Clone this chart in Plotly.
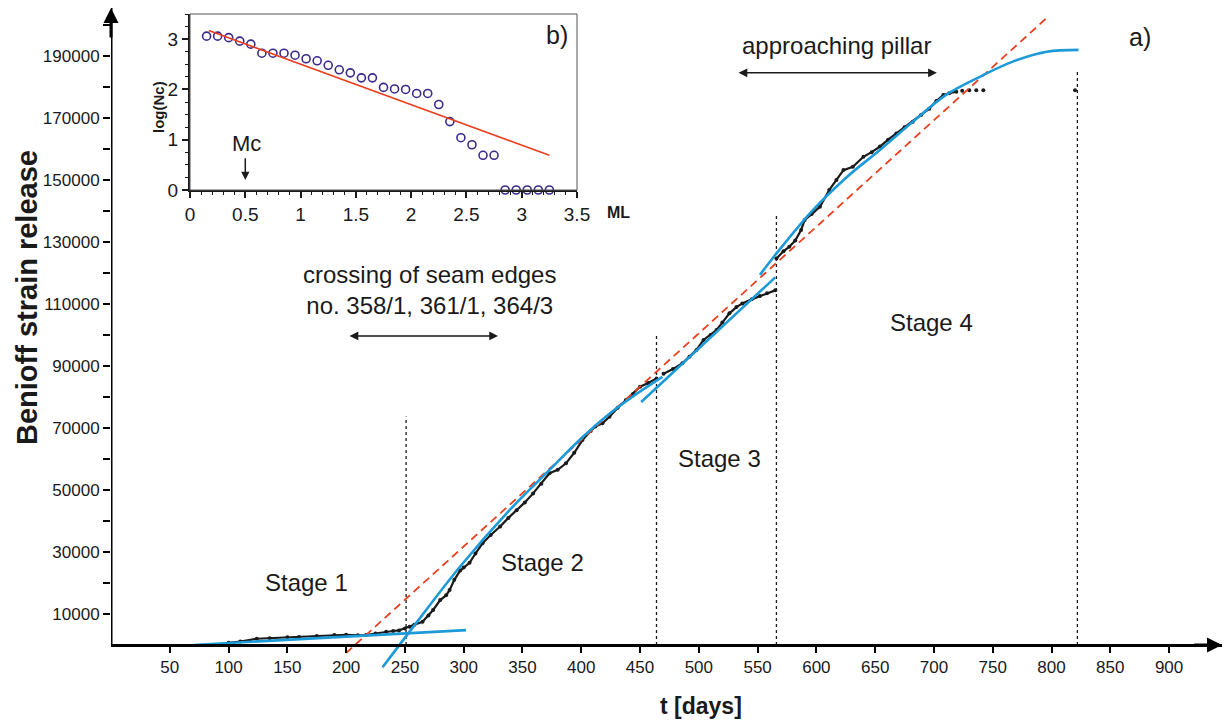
import plotly.graph_objects as go

# ---------------- main chart (a) data ----------------
t_stage1 = [100, 110, 124, 135, 150, 160, 175, 190, 200, 210, 217, 225, 234, 240, 245, 250]
v_stage1 = [700, 1100, 2000, 2200, 2500, 2600, 2900, 3200, 3300, 3100, 3200, 3700, 4300, 4500, 4700, 5300]

t_stage2 = [254, 258, 265, 270, 274, 280, 285, 288, 292, 297, 300, 305, 310, 316, 323, 331,
            338, 345, 352, 359, 366, 373, 380, 387, 394, 401, 408, 412, 418, 424, 431, 438,
            444, 450, 457, 464]
v_stage2 = [5900, 6500, 7500, 9500, 11300, 14500, 16000, 17700, 21000, 24000, 25000, 26500,
            29500, 32800, 35500, 38200, 41000, 43500, 46000, 48900, 52000, 55400, 56500, 58600,
            62000, 66100, 69000, 70500, 71500, 73600, 76500, 79000, 81000, 83300, 84500, 86000]

t_stage3 = [470, 478, 486, 492, 498, 504, 510, 515, 520, 526, 532, 537, 545, 552, 558, 565]
v_stage3 = [87500, 89000, 90900, 93000, 95200, 98400, 100000, 101600, 104000, 107000, 109000,
            110200, 111500, 112600, 113500, 114400]

t_stage4 = [566, 572, 577, 582, 587, 590, 596, 603, 611, 617, 623, 631, 640, 647, 654, 661,
            668, 675, 682, 689, 696, 702, 708, 713, 719]
v_stage4 = [124700, 127000, 128500, 130500, 133900, 137100, 139000, 141400, 146800, 150000,
            153200, 154300, 157500, 159000, 160800, 163000, 165000, 167000, 168800, 171000,
            173000, 175500, 177400, 178000, 178500]

t_tail = [724, 730, 736, 742, 820]
v_tail = [178800, 179000, 179000, 179000, 179000]

# fitted lines
t_fit1 = [70, 302]
v_fit1 = [0, 4800]
t_fit2 = [231, 254, 297, 339, 373, 401, 424, 447, 469]
v_fit2 = [-7200, 4300, 25300, 43500, 56500, 67000, 74600, 81000, 86500]
t_fit3 = [451, 565]
v_fit3 = [78400, 118600]
t_fit4 = [552, 566, 597, 626, 654, 682, 710, 739, 767, 796, 823]
v_fit4 = [119400, 126300, 140300, 151000, 159700, 168800, 177400, 183300, 188200, 191400, 192000]

t_linear = [200, 798]
v_linear = [-2600, 203000]

# stage boundaries (dotted verticals)
t_bounds = [251, 464, 566, 822]
v_bound_tops = [73700, 100000, 139400, 185500]

x_ticks = list(range(50, 901, 50))
y_ticks = list(range(10000, 190001, 20000))
y_minor = list(range(20000, 200001, 20000))

# ---------------- inset (b) data ----------------
ml = [0.15, 0.25, 0.35, 0.45, 0.55, 0.65, 0.75, 0.85, 0.95, 1.05, 1.15, 1.25, 1.35, 1.45,
      1.55, 1.65, 1.75, 1.85, 1.95, 2.05, 2.15, 2.25, 2.35, 2.45, 2.55, 2.65, 2.75, 2.85,
      2.95, 3.05, 3.15, 3.25]
log_nc = [3.06, 3.06, 3.03, 2.96, 2.90, 2.72, 2.72, 2.72, 2.68, 2.61, 2.57, 2.48, 2.39, 2.33,
          2.23, 2.23, 2.04, 2.01, 2.00, 1.92, 1.92, 1.70, 1.36, 1.04, 0.90, 0.69, 0.69, 0,
          0, 0, 0, 0]
ml_fit = [0.17, 3.25]
lognc_fit = [3.17, 0.69]

SANS = "Liberation Sans, Arial, sans-serif"
BLACK = "#1a1a1a"
BLUE = "#1d9ad8"
RED = "#e8401f"
PURPLE = "#3b2a8c"

X_MAX = 945
Y_MAX = 205500
Y_MIN = -8400

fig = go.Figure()

# dotted stage boundaries
for tb, vt in zip(t_bounds, v_bound_tops):
    fig.add_trace(go.Scatter(x=[tb, tb], y=[0, vt], mode="lines",
                             line=dict(color=BLACK, width=1.3, dash="dot"),
                             showlegend=False, hoverinfo="skip"))

# observed data
for tx, vy in [(t_stage1 + t_stage2, v_stage1 + v_stage2), (t_stage3, v_stage3), (t_stage4, v_stage4)]:
    fig.add_trace(go.Scatter(x=tx, y=vy, mode="lines+markers",
                             line=dict(color=BLACK, width=2.2),
                             marker=dict(color=BLACK, size=4),
                             showlegend=False))
fig.add_trace(go.Scatter(x=t_tail, y=v_tail, mode="markers",
                         marker=dict(color=BLACK, size=4), showlegend=False))

# linear trend (red dashed)
fig.add_trace(go.Scatter(x=t_linear, y=v_linear, mode="lines",
                         line=dict(color=RED, width=1.8, dash="8px,5px"), showlegend=False))

# stage fits (blue)
for tx, vy in [(t_fit1, v_fit1), (t_fit2, v_fit2), (t_fit3, v_fit3), (t_fit4, v_fit4)]:
    fig.add_trace(go.Scatter(x=tx, y=vy, mode="lines", line_shape="spline",
                             line=dict(color=BLUE, width=2.6), showlegend=False))

# inset
fig.add_trace(go.Scatter(x=ml, y=log_nc, mode="markers", xaxis="x2", yaxis="y2",
                         marker=dict(symbol="circle-open", size=8, color=PURPLE,
                                     line=dict(width=1.6, color=PURPLE)),
                         showlegend=False, cliponaxis=False))
fig.add_trace(go.Scatter(x=ml_fit, y=lognc_fit, mode="lines", xaxis="x2", yaxis="y2",
                         line=dict(color=RED, width=1.6), showlegend=False))

W, H = 1227, 724
ML_L = 111; ML_TOP = 8; ML_R = 5
Y0_PX = 645                      # pixel row of the x axis (value 0)
PX_PER_UNIT = (Y0_PX - ML_TOP) / Y_MAX
ML_B = int(round(H - (Y0_PX + (-Y_MIN) * PX_PER_UNIT)))
pw = W - ML_L - ML_R
ph = H - ML_TOP - ML_B

def px_x(p):
    return (p - ML_L) / pw

def px_y(p):
    return (H - ML_B - p) / ph

annotations = []
def text(x, y, s, size=24, bold=False, xref="x", yref="y", angle=0):
    annotations.append(dict(x=x, y=y, xref=xref, yref=yref, text=("<b>%s</b>" % s) if bold else s,
                            showarrow=False, textangle=angle,
                            font=dict(family=SANS, size=size, color=BLACK),
                            xanchor="center", yanchor="middle"))

text(166, 20000, "Stage 1")
text(366.6, 26500, "Stage 2")
text(518, 60300, "Stage 3")
text(698, 103900, "Stage 4")
text(875, 196000, "a)", size=25)
text(617.5, 193500, "approaching pillar")
annotations.append(dict(x=270.5, y=114500, xref="x", yref="y",
                        text="crossing of seam edges<br>no. 358/1, 361/1, 364/3",
                        showarrow=False, align="center",
                        font=dict(family=SANS, size=24, color=BLACK)))

# double-headed arrows
for (x0, x1, yv) in [(532.5, 702.5, 184600), (201.6, 329.2, 99700)]:
    annotations.append(dict(x=x1, y=yv, ax=x0, ay=yv, xref="x", yref="y", axref="x", ayref="y",
                            text="", showarrow=True, arrowhead=2, arrowside="end+start",
                            arrowsize=1.1, arrowwidth=1.6, arrowcolor=BLACK))

# axis arrowheads
annotations.append(dict(x=X_MAX, y=0, ax=X_MAX - 25, ay=0, xref="x", yref="y", axref="x", ayref="y",
                        text="", showarrow=True, arrowhead=2, arrowsize=1, arrowwidth=3,
                        arrowcolor="black"))
annotations.append(dict(x=0, y=Y_MAX, ax=0, ay=Y_MAX - 10000, xref="x", yref="y", axref="x", ayref="y",
                        text="", showarrow=True, arrowhead=2, arrowsize=1, arrowwidth=3,
                        arrowcolor="black"))

# axis titles
text(px_x(27), px_y(298), "Benioff strain release", size=29, bold=True,
     xref="paper", yref="paper", angle=-90)
text(px_x(701), px_y(706), "t [days]", size=23, bold=True, xref="paper", yref="paper")

# inset labels
text(3.32, 3.08, "b)", size=25, xref="x2", yref="y2")
text(0.513, 0.915, "Mc", size=22, xref="x2", yref="y2")
annotations.append(dict(x=0.5, y=0.2, ax=0.5, ay=0.66, xref="x2", yref="y2", axref="x2", ayref="y2",
                        text="", showarrow=True, arrowhead=2, arrowsize=1.1, arrowwidth=1.5,
                        arrowcolor=BLACK))
text(px_x(618), px_y(212), "ML", size=16, bold=True, xref="paper", yref="paper")
text(px_x(158), px_y(107), "log(Nc)", size=15, bold=True, xref="paper", yref="paper", angle=-90)

fig.update_layout(
    width=W, height=H,
    margin=dict(l=ML_L, r=ML_R, t=ML_TOP, b=ML_B, autoexpand=False),
    plot_bgcolor="white", paper_bgcolor="white",
    showlegend=False,
    annotations=annotations,
    xaxis=dict(range=[0, X_MAX], automargin=False, showgrid=False, zeroline=False, showline=True,
               anchor="free", position=(0 - Y_MIN) / (Y_MAX - Y_MIN),
               linewidth=3, linecolor="black", ticks="outside", ticklen=6, tickwidth=2,
               tickcolor="black", tickmode="array", tickvals=x_ticks,
               ticktext=[str(v) for v in x_ticks],
               tickfont=dict(family=SANS, size=17, color=BLACK)),
    yaxis=dict(range=[Y_MIN, Y_MAX], automargin=False, showgrid=False, zeroline=False,
               showline=False, ticks="outside", ticklen=7, tickwidth=2,
               tickcolor="black", tickmode="array", tickvals=y_ticks,
               ticktext=[str(v) for v in y_ticks],
               tickfont=dict(family=SANS, size=17, color=BLACK),
               minor=dict(tickmode="array", tickvals=y_minor, ticks="outside", ticklen=7,
                          tickwidth=2, tickcolor="black")),
    xaxis2=dict(domain=[px_x(190), px_x(577)], anchor="y2", range=[0, 3.5], automargin=False,
                showgrid=False, zeroline=False, showline=True, linewidth=2, linecolor=BLACK,
                ticks="outside", ticklen=6, tickwidth=1.5, tickcolor=BLACK,
                tickmode="array", tickvals=[0, 0.5, 1, 1.5, 2, 2.5, 3, 3.5],
                ticktext=["0", "0.5", "1", "1.5", "2", "2.5", "3", "3.5"],
                tickfont=dict(family=SANS, size=19, color=BLACK),
                minor=dict(dtick=0.1, tick0=0, ticks="outside", ticklen=3, tickwidth=1.2,
                           tickcolor=BLACK)),
    yaxis2=dict(domain=[px_y(190), px_y(14)], anchor="x2", range=[0, 3.5], automargin=False,
                showgrid=False, zeroline=False, showline=True, linewidth=2, linecolor=BLACK,
                ticks="outside", ticklen=6, tickwidth=1.5, tickcolor=BLACK,
                tickmode="array", tickvals=[0, 1, 2, 3], ticktext=["0", "1", "2", "3"],
                tickfont=dict(family=SANS, size=19, color=BLACK),
                minor=dict(dtick=0.25, tick0=0, ticks="outside", ticklen=3, tickwidth=1.2,
                           tickcolor=BLACK)),
    shapes=[
        dict(type="line", xref="x", yref="y", x0=0, x1=0, y0=0, y1=Y_MAX,
             line=dict(color="black", width=3)),
        dict(type="rect", xref="x2 domain", yref="y2 domain", x0=0, x1=1, y0=0, y1=1,
             line=dict(color="#555", width=1)),
    ],
)

fig.write_html("out.html", config={"displayModeBar": False},
               post_script="document.body.style.margin='0';document.body.style.padding='0';"
                           "document.documentElement.style.overflow='hidden';")
